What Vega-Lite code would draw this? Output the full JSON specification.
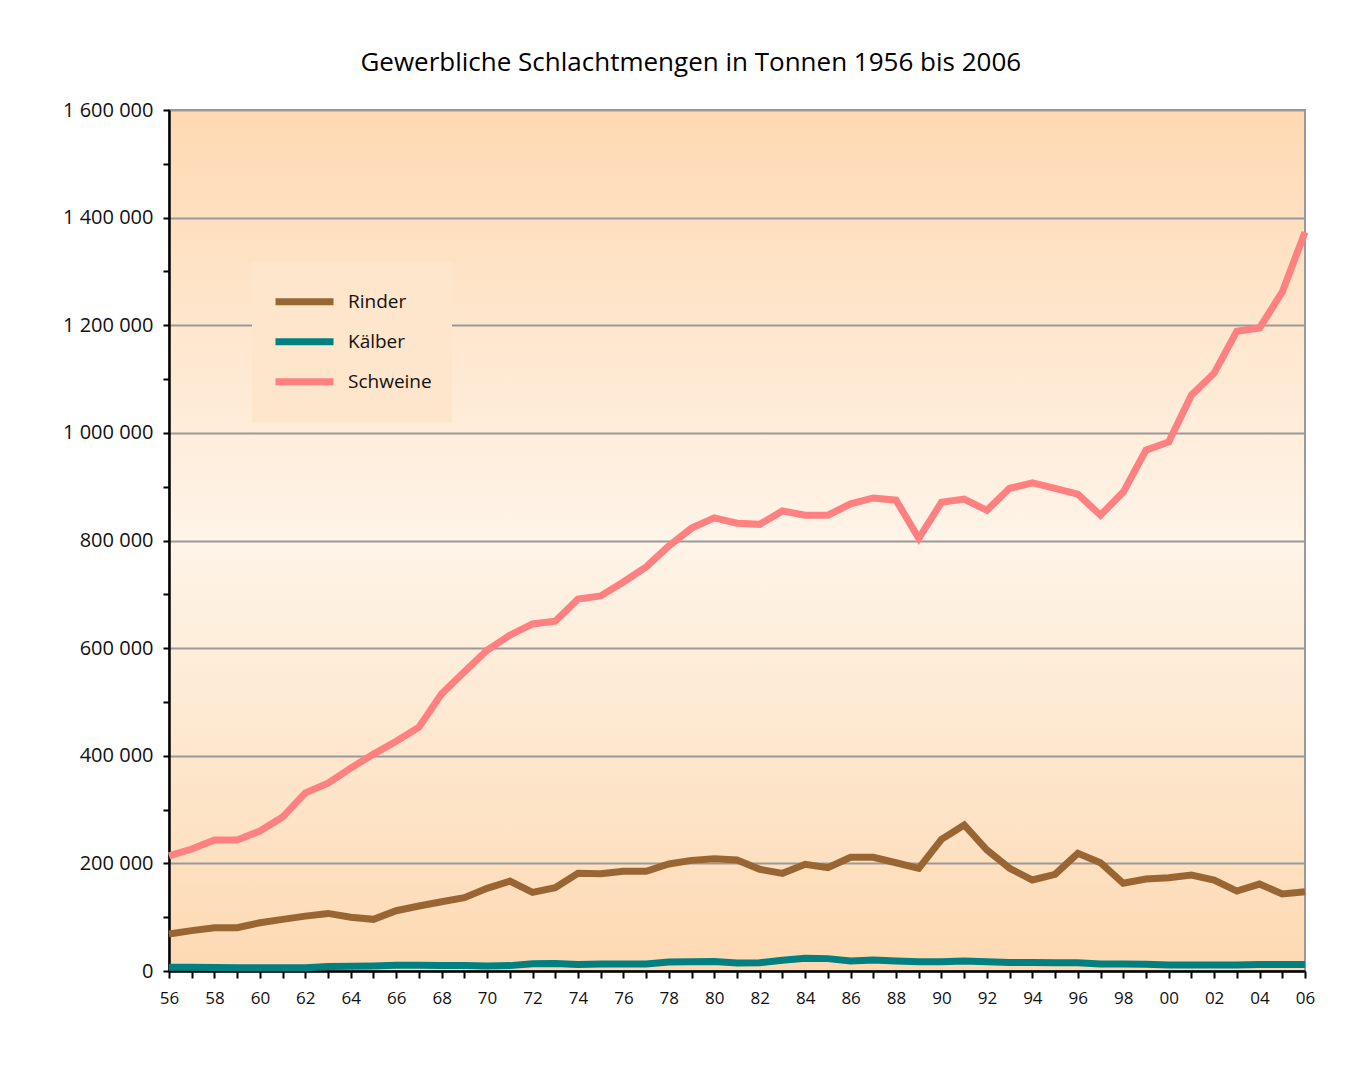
{
  "$schema": "https://vega.github.io/schema/vega-lite/v6.json",
  "autosize": {"type": "none"},
  "padding": {"left": 169, "top": 110, "right": 60, "bottom": 111},
  "width": 1136,
  "height": 861,
  "background": "white",
  "title": {
    "text": "Gewerbliche Schlachtmengen in Tonnen 1956 bis 2006",
    "font": "Open Sans",
    "fontSize": 26,
    "fontWeight": "normal",
    "color": "#000000",
    "anchor": "middle",
    "frame": "bounds",
    "offset": 24
  },
  "data": {
    "values": [
      {"jahr": 1956, "art": "Rinder", "t": 68700}, {"jahr": 1957, "art": "Rinder", "t": 75000}, {"jahr": 1958, "art": "Rinder", "t": 80500}, {"jahr": 1959, "art": "Rinder", "t": 80500}, {"jahr": 1960, "art": "Rinder", "t": 89700}, {"jahr": 1961, "art": "Rinder", "t": 96000}, {"jahr": 1962, "art": "Rinder", "t": 102000}, {"jahr": 1963, "art": "Rinder", "t": 107000}, {"jahr": 1964, "art": "Rinder", "t": 99800}, {"jahr": 1965, "art": "Rinder", "t": 96000}, {"jahr": 1966, "art": "Rinder", "t": 112000}, {"jahr": 1967, "art": "Rinder", "t": 120800}, {"jahr": 1968, "art": "Rinder", "t": 128800}, {"jahr": 1969, "art": "Rinder", "t": 136200}, {"jahr": 1970, "art": "Rinder", "t": 153600}, {"jahr": 1971, "art": "Rinder", "t": 167000}, {"jahr": 1972, "art": "Rinder", "t": 146000}, {"jahr": 1973, "art": "Rinder", "t": 154800}, {"jahr": 1974, "art": "Rinder", "t": 181500}, {"jahr": 1975, "art": "Rinder", "t": 180800}, {"jahr": 1976, "art": "Rinder", "t": 185200}, {"jahr": 1977, "art": "Rinder", "t": 185200}, {"jahr": 1978, "art": "Rinder", "t": 198800}, {"jahr": 1979, "art": "Rinder", "t": 205600}, {"jahr": 1980, "art": "Rinder", "t": 208700}, {"jahr": 1981, "art": "Rinder", "t": 206200}, {"jahr": 1982, "art": "Rinder", "t": 189000}, {"jahr": 1983, "art": "Rinder", "t": 181500}, {"jahr": 1984, "art": "Rinder", "t": 198200}, {"jahr": 1985, "art": "Rinder", "t": 192000}, {"jahr": 1986, "art": "Rinder", "t": 211200}, {"jahr": 1987, "art": "Rinder", "t": 211200}, {"jahr": 1988, "art": "Rinder", "t": 201200}, {"jahr": 1989, "art": "Rinder", "t": 190800}, {"jahr": 1990, "art": "Rinder", "t": 244700}, {"jahr": 1991, "art": "Rinder", "t": 271300}, {"jahr": 1992, "art": "Rinder", "t": 224800}, {"jahr": 1993, "art": "Rinder", "t": 190800}, {"jahr": 1994, "art": "Rinder", "t": 169100}, {"jahr": 1995, "art": "Rinder", "t": 179600}, {"jahr": 1996, "art": "Rinder", "t": 218700}, {"jahr": 1997, "art": "Rinder", "t": 201200}, {"jahr": 1998, "art": "Rinder", "t": 163000}, {"jahr": 1999, "art": "Rinder", "t": 171000}, {"jahr": 2000, "art": "Rinder", "t": 173400}, {"jahr": 2001, "art": "Rinder", "t": 178400}, {"jahr": 2002, "art": "Rinder", "t": 169100}, {"jahr": 2003, "art": "Rinder", "t": 148600}, {"jahr": 2004, "art": "Rinder", "t": 161600}, {"jahr": 2005, "art": "Rinder", "t": 143100}, {"jahr": 2006, "art": "Rinder", "t": 147400},
      {"jahr": 1956, "art": "Kälber", "t": 7000}, {"jahr": 1957, "art": "Kälber", "t": 7000}, {"jahr": 1958, "art": "Kälber", "t": 6500}, {"jahr": 1959, "art": "Kälber", "t": 6000}, {"jahr": 1960, "art": "Kälber", "t": 6000}, {"jahr": 1961, "art": "Kälber", "t": 6000}, {"jahr": 1962, "art": "Kälber", "t": 6000}, {"jahr": 1963, "art": "Kälber", "t": 8500}, {"jahr": 1964, "art": "Kälber", "t": 9000}, {"jahr": 1965, "art": "Kälber", "t": 9500}, {"jahr": 1966, "art": "Kälber", "t": 10500}, {"jahr": 1967, "art": "Kälber", "t": 10500}, {"jahr": 1968, "art": "Kälber", "t": 10000}, {"jahr": 1969, "art": "Kälber", "t": 10000}, {"jahr": 1970, "art": "Kälber", "t": 9500}, {"jahr": 1971, "art": "Kälber", "t": 10000}, {"jahr": 1972, "art": "Kälber", "t": 13500}, {"jahr": 1973, "art": "Kälber", "t": 14000}, {"jahr": 1974, "art": "Kälber", "t": 12000}, {"jahr": 1975, "art": "Kälber", "t": 13000}, {"jahr": 1976, "art": "Kälber", "t": 13000}, {"jahr": 1977, "art": "Kälber", "t": 13000}, {"jahr": 1978, "art": "Kälber", "t": 16500}, {"jahr": 1979, "art": "Kälber", "t": 17000}, {"jahr": 1980, "art": "Kälber", "t": 17500}, {"jahr": 1981, "art": "Kälber", "t": 15000}, {"jahr": 1982, "art": "Kälber", "t": 15500}, {"jahr": 1983, "art": "Kälber", "t": 20000}, {"jahr": 1984, "art": "Kälber", "t": 23500}, {"jahr": 1985, "art": "Kälber", "t": 23000}, {"jahr": 1986, "art": "Kälber", "t": 18500}, {"jahr": 1987, "art": "Kälber", "t": 20400}, {"jahr": 1988, "art": "Kälber", "t": 18600}, {"jahr": 1989, "art": "Kälber", "t": 17000}, {"jahr": 1990, "art": "Kälber", "t": 17000}, {"jahr": 1991, "art": "Kälber", "t": 18600}, {"jahr": 1992, "art": "Kälber", "t": 17300}, {"jahr": 1993, "art": "Kälber", "t": 16000}, {"jahr": 1994, "art": "Kälber", "t": 16000}, {"jahr": 1995, "art": "Kälber", "t": 15500}, {"jahr": 1996, "art": "Kälber", "t": 15500}, {"jahr": 1997, "art": "Kälber", "t": 13000}, {"jahr": 1998, "art": "Kälber", "t": 13000}, {"jahr": 1999, "art": "Kälber", "t": 12500}, {"jahr": 2000, "art": "Kälber", "t": 11000}, {"jahr": 2001, "art": "Kälber", "t": 11000}, {"jahr": 2002, "art": "Kälber", "t": 11000}, {"jahr": 2003, "art": "Kälber", "t": 11000}, {"jahr": 2004, "art": "Kälber", "t": 12000}, {"jahr": 2005, "art": "Kälber", "t": 12000}, {"jahr": 2006, "art": "Kälber", "t": 12000},
      {"jahr": 1956, "art": "Schweine", "t": 214000}, {"jahr": 1957, "art": "Schweine", "t": 226700}, {"jahr": 1958, "art": "Schweine", "t": 243400}, {"jahr": 1959, "art": "Schweine", "t": 243400}, {"jahr": 1960, "art": "Schweine", "t": 260000}, {"jahr": 1961, "art": "Schweine", "t": 286000}, {"jahr": 1962, "art": "Schweine", "t": 331000}, {"jahr": 1963, "art": "Schweine", "t": 349000}, {"jahr": 1964, "art": "Schweine", "t": 377000}, {"jahr": 1965, "art": "Schweine", "t": 403000}, {"jahr": 1966, "art": "Schweine", "t": 427000}, {"jahr": 1967, "art": "Schweine", "t": 453000}, {"jahr": 1968, "art": "Schweine", "t": 515000}, {"jahr": 1969, "art": "Schweine", "t": 556000}, {"jahr": 1970, "art": "Schweine", "t": 596000}, {"jahr": 1971, "art": "Schweine", "t": 624000}, {"jahr": 1972, "art": "Schweine", "t": 645000}, {"jahr": 1973, "art": "Schweine", "t": 650000}, {"jahr": 1974, "art": "Schweine", "t": 691000}, {"jahr": 1975, "art": "Schweine", "t": 697000}, {"jahr": 1976, "art": "Schweine", "t": 723000}, {"jahr": 1977, "art": "Schweine", "t": 751000}, {"jahr": 1978, "art": "Schweine", "t": 790000}, {"jahr": 1979, "art": "Schweine", "t": 823000}, {"jahr": 1980, "art": "Schweine", "t": 842000}, {"jahr": 1981, "art": "Schweine", "t": 832000}, {"jahr": 1982, "art": "Schweine", "t": 830000}, {"jahr": 1983, "art": "Schweine", "t": 855000}, {"jahr": 1984, "art": "Schweine", "t": 847000}, {"jahr": 1985, "art": "Schweine", "t": 847000}, {"jahr": 1986, "art": "Schweine", "t": 868000}, {"jahr": 1987, "art": "Schweine", "t": 879000}, {"jahr": 1988, "art": "Schweine", "t": 875000}, {"jahr": 1989, "art": "Schweine", "t": 804000}, {"jahr": 1990, "art": "Schweine", "t": 871000}, {"jahr": 1991, "art": "Schweine", "t": 877000}, {"jahr": 1992, "art": "Schweine", "t": 856000}, {"jahr": 1993, "art": "Schweine", "t": 897000}, {"jahr": 1994, "art": "Schweine", "t": 907000}, {"jahr": 1995, "art": "Schweine", "t": 897000}, {"jahr": 1996, "art": "Schweine", "t": 886000}, {"jahr": 1997, "art": "Schweine", "t": 847000}, {"jahr": 1998, "art": "Schweine", "t": 890000}, {"jahr": 1999, "art": "Schweine", "t": 968000}, {"jahr": 2000, "art": "Schweine", "t": 983000}, {"jahr": 2001, "art": "Schweine", "t": 1070000}, {"jahr": 2002, "art": "Schweine", "t": 1111000}, {"jahr": 2003, "art": "Schweine", "t": 1189000}, {"jahr": 2004, "art": "Schweine", "t": 1195000}, {"jahr": 2005, "art": "Schweine", "t": 1262000}, {"jahr": 2006, "art": "Schweine", "t": 1373000}
    ]
  },
  "mark": {"type": "line", "strokeWidth": 7, "strokeJoin": "miter", "clip": false},
  "encoding": {
    "x": {
      "field": "jahr",
      "type": "quantitative",
      "title": null,
      "scale": {"domain": [1956, 2006], "nice": false, "zero": false},
      "axis": {
        "values": [1956,1957,1958,1959,1960,1961,1962,1963,1964,1965,1966,1967,1968,1969,1970,1971,1972,1973,1974,1975,1976,1977,1978,1979,1980,1981,1982,1983,1984,1985,1986,1987,1988,1989,1990,1991,1992,1993,1994,1995,1996,1997,1998,1999,2000,2001,2002,2003,2004,2005,2006],
        "labelExpr": "datum.value % 2 == 0 ? slice(toString(datum.value), 2) : ''",
        "grid": false,
        "domainColor": "#000000",
        "domainWidth": 2.5,
        "tickColor": "#000000",
        "tickWidth": 2,
        "tickSize": 7,
        "labelPadding": 12,
        "labelFont": "Open Sans",
        "labelFontSize": 17,
        "labelColor": "#111111",
        "labelOverlap": false,
        "labelFlush": false
      }
    },
    "y": {
      "field": "t",
      "type": "quantitative",
      "title": null,
      "scale": {"domain": [0, 1600000], "nice": false},
      "axis": {
        "values": [0,100000,200000,300000,400000,500000,600000,700000,800000,900000,1000000,1100000,1200000,1300000,1400000,1500000,1600000],
        "labelExpr": "datum.value % 200000 == 0 ? replace(format(datum.value, ','), regexp(',', 'g'), ' ') : ''",
        "grid": true,
        "gridColor": "#999999",
        "gridWidth": 2,
        "gridOpacity": {"condition": {"test": "datum.value % 200000 != 0", "value": 0}, "value": 1},
        "domainColor": "#000000",
        "domainWidth": 2.5,
        "tickColor": "#000000",
        "tickWidth": 2,
        "tickSize": 6,
        "labelPadding": 10,
        "labelFont": "Open Sans",
        "labelFontSize": 20,
        "labelColor": "#111111",
        "labelOverlap": false,
        "labelFlush": false
      }
    },
    "color": {
      "field": "art",
      "type": "nominal",
      "scale": {"domain": ["Rinder", "Kälber", "Schweine"], "range": ["#996633", "#008080", "#FF8080"]},
      "legend": {
        "title": null,
        "orient": "none",
        "legendX": 83,
        "legendY": 152,
        "fillColor": "#FEE6CD",
        "padding": 20,
        "symbolType": "stroke",
        "symbolSize": 3364,
        "symbolStrokeWidth": 7,
        "labelFont": "Open Sans",
        "labelFontSize": 19,
        "labelColor": "#111111",
        "labelOffset": 11,
        "clipHeight": 39.5,
        "rowPadding": 0
      }
    }
  },
  "config": {
    "view": {
      "stroke": "#999999",
      "strokeWidth": 2,
      "fill": {
        "gradient": "linear",
        "x1": 0, "y1": 0, "x2": 0, "y2": 1,
        "stops": [
          {"offset": 0, "color": "#FED9B2"},
          {"offset": 0.5, "color": "#FEF4E8"},
          {"offset": 1, "color": "#FDD9B2"}
        ]
      }
    }
  }
}
